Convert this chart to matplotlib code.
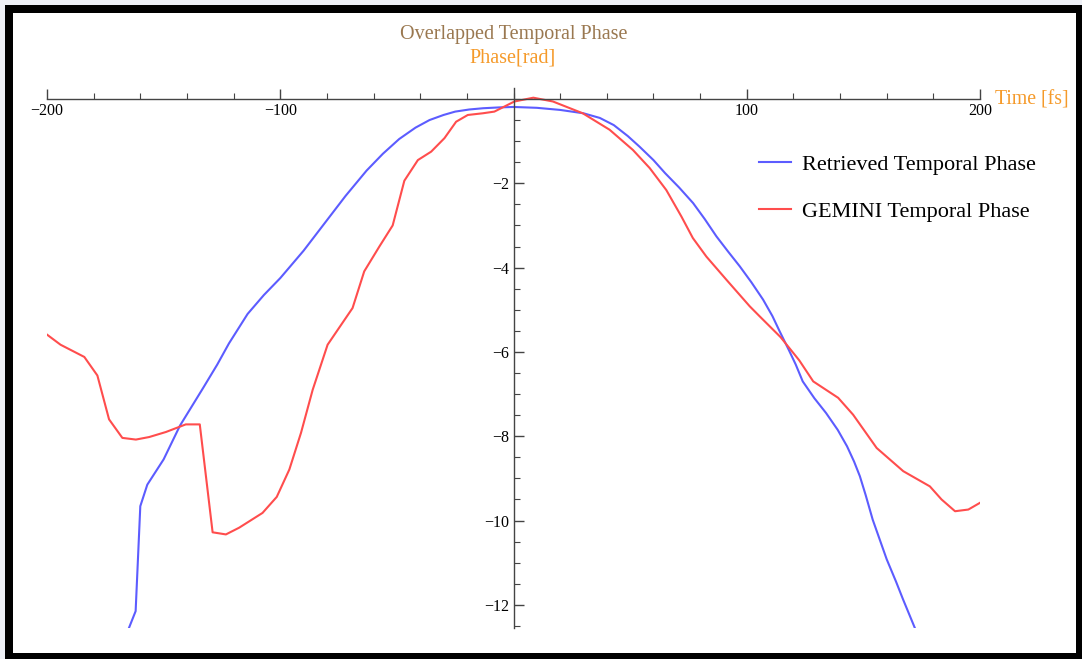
import numpy as np
import matplotlib
matplotlib.use('Agg')
import matplotlib.pyplot as plt
from matplotlib.patches import Rectangle
from matplotlib.ticker import MultipleLocator, FixedLocator

# data
blue_x = [-164.8, -162, -160, -157, -150, -143, -138, -133, -127, -122, -114, -107, -100,
          -90, -81, -72, -63, -56, -49, -42, -36, -30, -25, -19, -13, -6, 0, 10, 20, 30,
          37, 43, 49, 54, 60, 65, 71, 77, 82, 87, 92, 97, 102, 107, 111, 114, 118, 121,
          124, 129, 134, 139, 143, 146, 148.5, 151, 154, 157, 160, 164, 167, 172]
blue_y = [-12.54, -12.15, -9.66, -9.15, -8.55, -7.75, -7.3, -6.85, -6.3, -5.8, -5.1, -4.65, -4.25,
          -3.6, -2.95, -2.3, -1.7, -1.3, -0.95, -0.68, -0.5, -0.38, -0.3, -0.25, -0.22, -0.2,
          -0.19, -0.21, -0.26, -0.34, -0.45, -0.62, -0.88, -1.13, -1.45, -1.76, -2.1, -2.47,
          -2.85, -3.26, -3.62, -3.97, -4.35, -4.76, -5.15, -5.5, -5.95, -6.3, -6.7, -7.1, -7.45,
          -7.85, -8.24, -8.6, -8.95, -9.4, -9.98, -10.45, -10.92, -11.45, -11.87, -12.54]

red_x = [-200, -194.2, -184, -178.4, -173.4, -167.7, -161.9, -156.2, -149, -140.5, -134.5,
         -129, -123.3, -117.6, -107.6, -101.5, -96.1, -91.1, -86.1, -79.7, -69, -64, -57.5,
         -51.8, -46.8, -41, -35.3, -29.6, -24.6, -19.6, -13.2, -8.2, -3.9, 0.4, 8.5, 16.9,
         29.7, 41.2, 51.2, 58.4, 65.5, 72, 76.9, 82.7, 91.3, 101.3, 105.6, 114.5, 122.5,
         128.5, 139.2, 145.6, 155.7, 167.1, 178.5, 183.5, 189.3, 195, 200]
red_y = [-5.59, -5.83, -6.12, -6.56, -7.6, -8.04, -8.08, -8.02, -7.9, -7.72, -7.72,
         -10.28, -10.33, -10.17, -9.82, -9.44, -8.79, -7.92, -6.9, -5.83, -4.96, -4.09, -3.5,
         -3.0, -1.94, -1.45, -1.25, -0.93, -0.54, -0.38, -0.34, -0.30, -0.18, -0.06, 0.03, -0.06,
         -0.34, -0.73, -1.21, -1.64, -2.16, -2.79, -3.30, -3.74, -4.29, -4.92, -5.16, -5.65, -6.2,
         -6.7, -7.09, -7.49, -8.28, -8.83, -9.19, -9.5, -9.78, -9.74, -9.58]

labels = ['Retrieved Temporal Phase', 'GEMINI Temporal Phase']

W, H = 1082, 659
fig = plt.figure(figsize=(W / 100, H / 100), dpi=100)
fig.patch.set_facecolor('#eef0f6')

# black frame + white page (kept behind the axes)
fig.patches.append(Rectangle((5 / W, 0), 1 - 5 / W, 1 - 5 / H, transform=fig.transFigure,
                             facecolor='black', edgecolor='none', zorder=-2))
fig.patches.append(Rectangle((13 / W, 6 / H), 1063 / W, 1 - 19 / H, transform=fig.transFigure,
                             facecolor='white', edgecolor='none', zorder=-1))

ax = fig.add_axes([47 / W, 1 - 628 / H, 933 / W, 540 / H])
ax.set_facecolor('none')

ax.plot(blue_x, blue_y, color='#5c5cff', lw=1.5, label=labels[0])
ax.plot(red_x, red_y, color='#ff4d4d', lw=1.5, label=labels[1])

ax.set_xlim(-200, 200)
ax.set_ylim(-12.55, 0.26)

for s in ['top', 'right']:
    ax.spines[s].set_visible(False)
ax.spines['left'].set_position(('data', 0))
ax.spines['bottom'].set_position(('data', 0))
for s in ['left', 'bottom']:
    ax.spines[s].set_color('#444444')
    ax.spines[s].set_linewidth(1.0)

ax.xaxis.set_major_locator(FixedLocator([-200, -100, 100, 200]))
ax.xaxis.set_minor_locator(MultipleLocator(20))
ax.yaxis.set_major_locator(FixedLocator([-2, -4, -6, -8, -10, -12]))
ax.yaxis.set_minor_locator(MultipleLocator(0.5))
ax.tick_params(which='major', direction='in', length=7, width=1, color='#444444',
               labelsize=11.5, pad=3)
ax.tick_params(which='minor', direction='in', length=4, width=0.8, color='#444444')
for t in ax.get_xticklabels() + ax.get_yticklabels():
    t.set_fontfamily('Liberation Serif')

fig.text(514 / W, 1 - 35 / H, 'Overlapped Temporal Phase', ha='center', va='center',
         fontsize=14.5, color='#9a7850', family='Liberation Serif')
fig.text(513 / W, 1 - 58 / H, 'Phase[rad]', ha='center', va='center',
         fontsize=14.5, color='#f59a2a', family='Liberation Serif')
fig.text(995 / W, 1 - 100 / H, 'Time [fs]', ha='left', va='center',
         fontsize=14.2, color='#f59a2a', family='Liberation Serif')

ax.legend(loc='upper left', bbox_to_anchor=(759 / W, 1 - 154 / H), bbox_transform=fig.transFigure,
          frameon=False, prop={'family': 'Liberation Serif', 'size': 16},
          handlelength=1.45, handletextpad=0.5, labelspacing=1.2,
          borderpad=0, borderaxespad=0)

plt.savefig('out.png', dpi=100, facecolor=fig.get_facecolor())
